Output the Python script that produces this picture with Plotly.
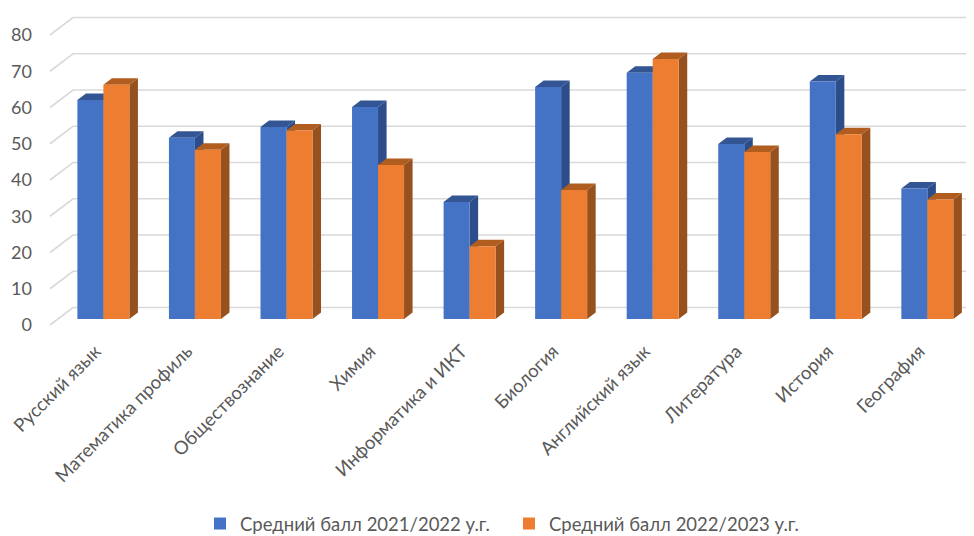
import plotly.graph_objects as go

categories = ["Русский язык", "Математика профиль", "Обществознание", "Химия",
              "Информатика и ИКТ", "Биология", "Английский язык", "Литература",
              "История", "География"]
series_2122 = [60.4, 50.0, 53.0, 58.5, 32.3, 64.0, 67.9, 48.3, 65.5, 36.0]
series_2223 = [64.6, 46.7, 52.0, 42.5, 20.1, 35.6, 71.7, 46.1, 51.0, 33.0]
y_ticks = [0, 10, 20, 30, 40, 50, 60, 70, 80]
name_a = "Средний балл 2021/2022 у.г."
name_b = "Средний балл 2022/2023 у.г."

PAGE = 8                 # the page's own margin round the figure
W, H = 974 - PAGE, 536 - PAGE
PX_CAT = 91.55
PX_VAL = 3.625
L, B = 25, 200           # margins
X0_PX, Y0_PX = 95.5 - PAGE, 325 - PAGE
WALL_PX = 50 - PAGE
DX = 23 / PX_CAT         # depth of the floor in category units
DY = 17.5 / PX_VAL       # depth of the floor in value units
D_FRONT, D_BACK = 6 / 17.5, 12.5 / 17.5
BAR_W = 26 / PX_CAT
FONT = "Lato"
GREY = "#595959"

x_range = [(L - X0_PX) / PX_CAT, (W - X0_PX) / PX_CAT]
y_range = [(Y0_PX - (H - B)) / PX_VAL, Y0_PX / PX_VAL]
wall_x = (WALL_PX - X0_PX) / PX_CAT


def faces(values, sign):
    """Side and top faces of the bars, projected obliquely from the values."""
    side_x, side_y, top_x, top_y = [], [], [], []
    base = D_FRONT * DY
    ox = (D_BACK - D_FRONT) * DX
    oy = (D_BACK - D_FRONT) * DY
    for i, v in enumerate(values):
        left = i + D_FRONT * DX + (-BAR_W if sign < 0 else 0)
        right = left + BAR_W
        top = base + v
        side_x += [right, right + ox, right + ox, right, right, None]
        side_y += [base, base + oy, top + oy, top, base, None]
        top_x += [left, left + ox, right + ox, right, left, None]
        top_y += [top, top + oy, top + oy, top, top, None]
    return side_x, side_y, top_x, top_y


fig = go.Figure()

# gridlines: left wall then back wall
gx, gy = [], []
for t in y_ticks:
    gx += [wall_x, wall_x + DX, x_range[1], None]
    gy += [t, t + DY, t + DY, None]
fig.add_trace(go.Scatter(x=gx, y=gy, mode="lines", line=dict(color="#D9D9D9", width=1.6),
                         showlegend=False, hoverinfo="skip", zorder=0))

for k, (vals, name, sign, front, side, top) in enumerate([
    (series_2122, name_a, -1, "#4472C4", "#2C4D8A", "#335593"),
    (series_2223, name_b, 1, "#ED7D31", "#96511E", "#B15D20"),
]):
    sx, sy, tx, ty = faces(vals, sign)
    z = 1 + 2 * k
    fig.add_trace(go.Scatter(x=sx, y=sy, mode="lines", fill="toself", fillcolor=side,
                             line=dict(width=0), showlegend=False, hoverinfo="skip", zorder=z))
    fig.add_trace(go.Scatter(x=tx, y=ty, mode="lines", fill="toself", fillcolor=top,
                             line=dict(width=0), showlegend=False, hoverinfo="skip", zorder=z))
    fig.add_trace(go.Bar(x=[i + D_FRONT * DX + sign * BAR_W / 2 for i in range(len(vals))],
                         y=vals, base=D_FRONT * DY, width=BAR_W, name=name,
                         marker=dict(color=front, line=dict(width=0)), zorder=z + 1))

fig.update_layout(
    width=W, height=H, autosize=False, barmode="overlay",
    margin=dict(l=L, r=0, t=0, b=B),
    paper_bgcolor="white", plot_bgcolor="white",
    font=dict(family=FONT, color=GREY, size=16),
    xaxis=dict(range=x_range, tickvals=list(range(len(categories))),
               ticktext=categories, tickangle=-45, showgrid=False, zeroline=False,
               showline=False, ticks="", tickfont=dict(size=18.5, color=GREY), automargin=False),
    yaxis=dict(range=y_range, tickvals=y_ticks, ticktext=[str(t) for t in y_ticks],
               showgrid=False, zeroline=False, showline=False, ticks="",
               tickfont=dict(size=18, color=GREY), automargin=False),
    legend=dict(orientation="h", x=192 / W, y=1 - 516 / H, xanchor="left", yanchor="middle",
                yref="container", xref="container", entrywidth=264, entrywidthmode="pixels",
                font=dict(size=18.5, color=GREY), bgcolor="rgba(0,0,0,0)"),
)
fig.write_html("out.html")
